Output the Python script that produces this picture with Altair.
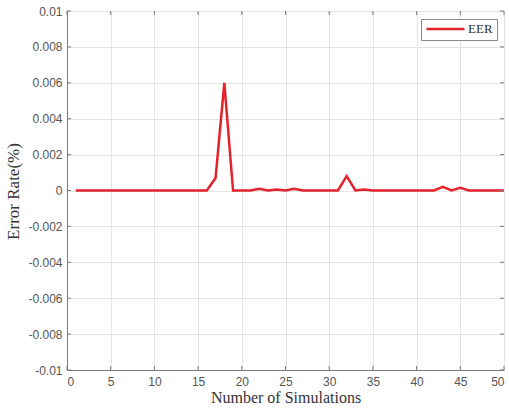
import altair as alt
import pandas as pd

simulations = list(range(1, 51))
eer = [0, 0, 0, 0, 0, 0, 0, 0, 0, 0,
       0, 0, 0, 0, 0, 0, 0.0007, 0.006, 0, 0,
       0, 0.0001, 0, 0.00005, 0, 0.0001, 0, 0, 0, 0,
       0, 0.0008, 0, 0.00005, 0, 0, 0, 0, 0, 0,
       0, 0, 0.0002, 0, 0.00015, 0, 0, 0, 0, 0]
series = ["EER"] * 50
x_ticks = [0, 5, 10, 15, 20, 25, 30, 35, 40, 45, 50]
y_ticks = [-0.01, -0.008, -0.006, -0.004, -0.002, 0, 0.002, 0.004, 0.006, 0.008, 0.01]

df = pd.DataFrame({"sim": simulations, "eer": eer, "series": series})
xt = pd.DataFrame({"sim": x_ticks})
yt = pd.DataFrame({"eer": y_ticks})

W, H = 437, 359
AX = "#7a7a7a"
LAB = "#555555"
GRID = "#e4e4e4"

xscale = alt.Scale(domain=[0, 50], nice=False, zero=False)
yscale = alt.Scale(domain=[-0.01, 0.01], nice=False, zero=False)

xaxis = alt.Axis(values=x_ticks, title="Number of Simulations", ticks=False,
                 labelFont="Liberation Sans", labelFontSize=12, labelColor=LAB,
                 labelPadding=6, titleFont="Liberation Serif", titleFontSize=16,
                 titleFontWeight="normal", titleColor="#333333",
                 titleBaseline="top", titleY=19,
                 domainColor=AX, gridColor=GRID, grid=True)
yaxis = alt.Axis(values=y_ticks, title="Error Rate(%)", ticks=False,
                 labelExpr="replace(format(datum.value, '~g'), '\u2212', '-')",
                 labelFont="Liberation Sans", labelFontSize=12, labelColor=LAB,
                 labelPadding=5, titleFont="Liberation Serif", titleFontSize=17,
                 titleFontWeight="normal", titleColor="#333333",
                 titleX=-54, titleY=180, titleBaseline="middle", titleAngle=-90,
                 domainColor=AX, gridColor=GRID, grid=True)

line = alt.Chart(df).mark_line(strokeWidth=2.5).encode(
    x=alt.X("sim:Q", scale=xscale, axis=xaxis),
    y=alt.Y("eer:Q", scale=yscale, axis=yaxis),
    color=alt.Color("series:N",
                    scale=alt.Scale(domain=["EER"], range=["#e3222b"]),
                    legend=alt.Legend(title=None, orient="none", legendX=354, legendY=8,
                                      symbolType="stroke", symbolSize=1444,
                                      symbolStrokeWidth=2.5, clipHeight=12,
                                      labelFont="Liberation Serif", labelFontSize=13,
                                      labelColor="#333333", strokeColor="#8a8a8a",
                                      fillColor="white", padding=4, labelOffset=2,
                                      cornerRadius=0)),
)

tick_b = alt.Chart(xt).mark_rule(color=AX, strokeWidth=1).encode(
    x=alt.X("sim:Q", scale=xscale, axis=xaxis), y=alt.value(H), y2=alt.value(H - 4))
tick_t = alt.Chart(xt).mark_rule(color=AX, strokeWidth=1).encode(
    x=alt.X("sim:Q", scale=xscale, axis=xaxis), y=alt.value(0), y2=alt.value(4))
tick_l = alt.Chart(yt).mark_rule(color=AX, strokeWidth=1).encode(
    y=alt.Y("eer:Q", scale=yscale, axis=yaxis), x=alt.value(0), x2=alt.value(4))
tick_r = alt.Chart(yt).mark_rule(color=AX, strokeWidth=1).encode(
    y=alt.Y("eer:Q", scale=yscale, axis=yaxis), x=alt.value(W), x2=alt.value(W - 4))

chart = alt.layer(line, tick_b, tick_t, tick_l, tick_r).properties(
    width=W, height=H,
    autosize=alt.AutoSizeParams(type="none"),
    padding={"left": 67, "top": 11, "right": 5, "bottom": 38},
).configure_view(stroke=AX, strokeWidth=1).configure(background="white")

chart.save("out.html", embed_options={"renderer": "svg", "actions": False})
